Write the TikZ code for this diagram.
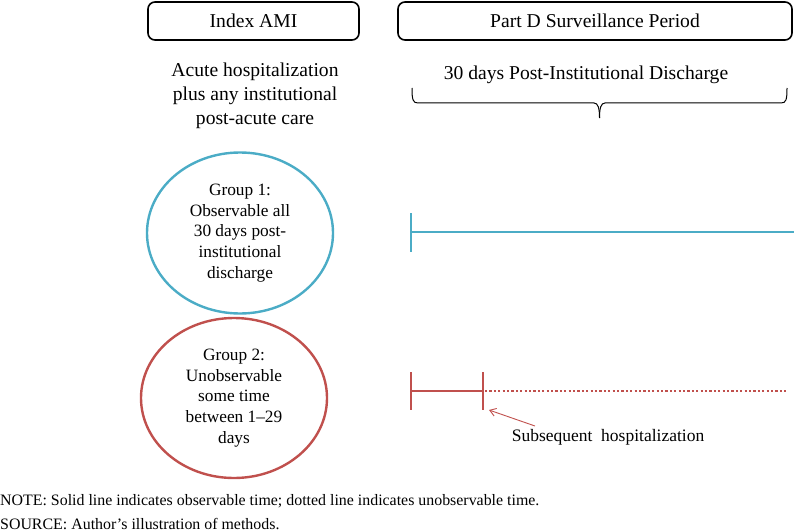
\documentclass[tikz,border=0pt]{standalone}
\usepackage{fontspec}
\setmainfont{Liberation Serif}
\usetikzlibrary{shapes.geometric,arrows.meta}
\definecolor{grpblue}{RGB}{75,172,198}
\definecolor{grpred}{RGB}{192,80,77}
\begin{document}
\begin{tikzpicture}[x=1pt,y=-1pt,
  header/.style={draw=black,line width=1.6pt,rounded corners=7pt,minimum height=38pt,inner sep=0pt,font=\fontsize{19.6}{22}\selectfont},
  bigtext/.style={align=center,font=\fontsize{19.6}{24}\selectfont,inner sep=0pt},
  grp/.style={ellipse,line width=2.4pt,minimum width=186pt,minimum height=161pt,inner sep=0pt,align=center,font=\fontsize{17.3}{20.7}\selectfont},
  tline/.style={line width=2.8pt},
  note/.style={anchor=west,inner sep=0pt,font=\fontsize{15.9}{18}\selectfont}]
\useasboundingbox (0,0) rectangle (794,532);
% headers
\node[header,minimum width=211pt] (h1) at (253.5,21) {Index AMI};
\node[header,minimum width=394pt] (h2) at (595,21) {Part D Surveillance Period};
% subtitles
\node[bigtext] (acute) at (255,96) {Acute hospitalization\\plus any institutional\\post-acute care};
\node[bigtext] (thirty) at (586,75) {30 days Post-Institutional Discharge};
% brace
\coordinate (bl) at (412,88);
\coordinate (br) at (787,88);
\coordinate (bt) at (599.5,118);
\draw[line width=1pt] (bl) .. controls (412,100) and (413,103) .. (418,103) -- (594,103)
  .. controls (598,103) and (599.5,108) .. (bt);
\draw[line width=1pt] (br) .. controls (787,100) and (786,103) .. (781,103) -- (605,103)
  .. controls (601,103) and (599.5,108) .. (bt);
% ellipses
\node[grp,draw=grpblue] (g1) at (240,233) {Group 1:\\Observable all\\30 days post-\\institutional\\discharge};
\node[grp,draw=grpred,minimum height=160pt] (g2) at (234,398) {Group 2:\\Unobservable\\some time\\between 1--29\\days};
% group 1 line
\coordinate (b1s) at (411,232);
\coordinate (b1e) at (794,232);
\coordinate (b1t) at (411,213);
\coordinate (b1b) at (411,252);
\draw[tline,grpblue] (b1t) -- (b1b);
\draw[tline,grpblue] (b1s) -- (b1e);
% group 2 line
\coordinate (r1s) at (411,391);
\coordinate (r1h) at (483,391);
\coordinate (r1e) at (786,391);
\coordinate (r1t) at (411,372);
\coordinate (r1b) at (411,410);
\coordinate (r2t) at (483,372);
\coordinate (r2b) at (483,410);
\draw[tline,grpred] (r1t) -- (r1b);
\draw[tline,grpred] (r2t) -- (r2b);
\draw[tline,grpred] (r1s) -- (r1h);
\draw[grpred,line width=1.9pt,dash pattern=on 2.2pt off 2.2pt] (r1h) ++(2,0) -- (r1e);
% label and arrow
\node[inner sep=0pt,font=\fontsize{17.5}{20}\selectfont] (sub) at (608,437) {Subsequent\ \ hospitalization};
\coordinate (atip) at (489,410);
\coordinate (astart) at (535,426);
\draw[grpred,line width=0.9pt,-{Straight Barb[length=6pt,width=8pt]}] (astart) -- (atip);
% notes
\node[note] (n1) at (0,501) {NOTE: Solid line indicates observable time; dotted line indicates unobservable time.};
\node[note] (n2) at (0,524) {SOURCE: Author’s illustration of methods.};
\end{tikzpicture}
\end{document}
